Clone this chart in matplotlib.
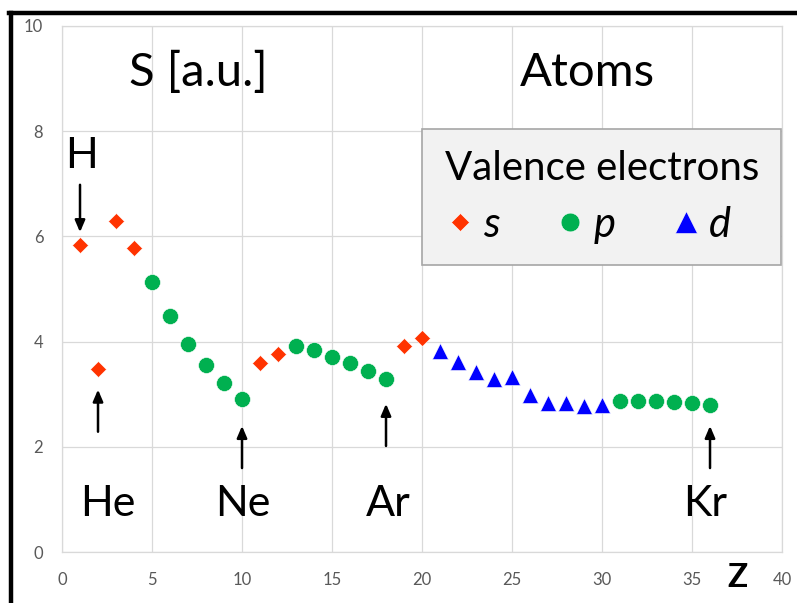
import matplotlib
matplotlib.use("Agg")
import matplotlib.pyplot as plt
from matplotlib.lines import Line2D

plt.rcParams['font.family'] = ['Lato', 'DejaVu Sans']

# Datos: numero atomico Z y S [a.u.]
z_s = [1, 2, 3, 4, 11, 12, 19, 20]
s_s = [5.83, 3.49, 6.29, 5.78, 3.60, 3.77, 3.91, 4.07]

z_p = [5, 6, 7, 8, 9, 10, 13, 14, 15, 16, 17, 18, 31, 32, 33, 34, 35, 36]
s_p = [5.14, 4.49, 3.95, 3.55, 3.21, 2.91, 3.91, 3.85, 3.71, 3.59, 3.45, 3.29,
       2.88, 2.88, 2.88, 2.86, 2.83, 2.79]

z_d = [21, 22, 23, 24, 25, 26, 27, 28, 29, 30]
s_d = [3.83, 3.61, 3.43, 3.29, 3.33, 2.99, 2.84, 2.83, 2.77, 2.79]

# Gases nobles marcados con flechas (H aparte, flecha hacia abajo)
noble_names = ['He', 'Ne', 'Ar', 'Kr']
noble_z = [2, 10, 18, 36]

x_ticks = [0, 5, 10, 15, 20, 25, 30, 35, 40]
y_ticks = [0, 2, 4, 6, 8, 10]

col_s = '#FF3300'
col_p = '#00B050'
col_d = '#0000FF'
grid_col = '#D9D9D9'
tick_col = '#595959'

fig = plt.figure(figsize=(7.97, 6.03), dpi=100)
ax = fig.add_axes([0.0778, 0.0841, 0.9034, 0.8731])

ax.plot(z_s, s_s, 'D', color=col_s, ms=8.2, mec='white', mew=0.4, zorder=3)
ax.plot(z_p, s_p, 'o', color=col_p, ms=11.5, mec='white', mew=0.4, zorder=3)
ax.plot(z_d, s_d, '^', color=col_d, ms=11, mec='white', mew=0.4, zorder=3)

ax.set_xlim(0, 40)
ax.set_ylim(0, 10)
ax.set_xticks(x_ticks)
ax.set_yticks(y_ticks)
ax.grid(True, color=grid_col, lw=0.9)
ax.set_axisbelow(True)
for sp in ax.spines.values():
    sp.set_color(grid_col)
    sp.set_linewidth(0.9)
ax.tick_params(length=0, labelsize=12, labelcolor=tick_col)
ax.tick_params(axis='y', pad=13.5)
ax.tick_params(axis='x', pad=14)

# Etiquetas grandes
big = 31
ax.text(7.6, 9.11, 'S [a.u.]', fontsize=34, ha='center', va='center')
ax.text(29.2, 9.11, 'Atoms', fontsize=34, ha='center', va='center')
ax.text(37.5, -0.47, 'Z', fontsize=24, fontweight='bold', ha='center', va='center',
        clip_on=False)

arrow = dict(arrowstyle='-|>,head_width=0.3,head_length=0.7', color='black', lw=1.8,
             shrinkA=0, shrinkB=0)

ax.annotate('', xy=(1, 6.08), xytext=(1, 6.98), arrowprops=arrow)
ax.text(1.11, 7.53, 'H', fontsize=big, ha='center', va='center')

text_dx = [0.53, 0.06, 0.1, -0.25]
arrow_y0 = [2.29, 1.60, 2.02, 1.60]
for name, z, dx, y0 in zip(noble_names, noble_z, text_dx, arrow_y0):
    ax.annotate('', xy=(z, y0 + 0.8), xytext=(z, y0), arrowprops=arrow)
    ax.text(z + dx, 0.92, name, fontsize=big, ha='center', va='center')

# Leyenda con marcadores algo mas grandes que en la grafica
leg_handles = [
    Line2D([], [], ls='none', marker='D', color=col_s, ms=9.3, mec='white', mew=0.4),
    Line2D([], [], ls='none', marker='o', color=col_p, ms=13.5, mec='white', mew=0.4),
    Line2D([], [], ls='none', marker='^', color=col_d, ms=16, mec='white', mew=0.4),
]
# espacios tras la 'd' para correr la fila un poco a la izquierda
leg = ax.legend(leg_handles, ['s', 'p', 'd   '], title='Valence electrons',
                loc='upper right', bbox_to_anchor=(0.9986, 0.8034),
                ncol=3, prop={'style': 'italic', 'size': 30},
                title_fontsize=29, fancybox=False, facecolor='#F2F2F2',
                edgecolor='#A6A6A6', framealpha=1, handlelength=0.8,
                handletextpad=0.15, columnspacing=1.3, borderpad=0.5,
                labelspacing=0.45, borderaxespad=0)
leg.get_frame().set_linewidth(1.2)

# Marco negro de la figura (izquierda y arriba)
fig.add_artist(Line2D([11 / 797, 11 / 797], [0, 1 - 12.5 / 603], color='black', lw=3.2))
fig.add_artist(Line2D([9 / 797, 1], [1 - 12.5 / 603, 1 - 12.5 / 603], color='black', lw=3.2))

fig.savefig('out.png', dpi=100)
